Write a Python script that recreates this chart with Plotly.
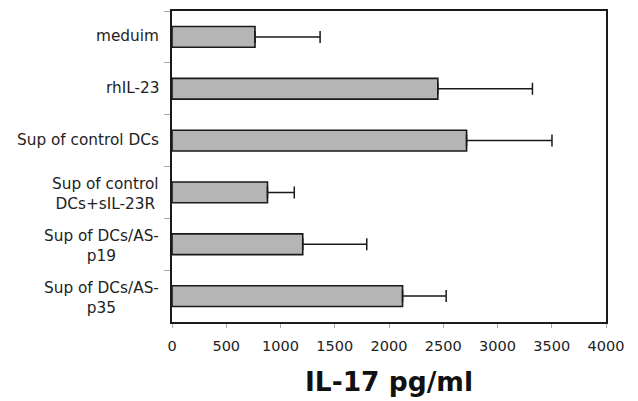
import plotly.graph_objects as go

categories = ["meduim", "rhIL-23", "Sup of control DCs",
              "Sup of control<br>DCs+sIL-23R", "Sup of DCs/AS-<br>p19", "Sup of DCs/AS-<br>p35"]
values = [765, 2450, 2715, 880, 1205, 2125]
errors = [600, 872, 787, 247, 590, 402]
x_ticks = [0, 500, 1000, 1500, 2000, 2500, 3000, 3500, 4000]

FONT = "DejaVu Sans, Verdana, sans-serif"

fig = go.Figure()
fig.add_trace(go.Bar(
    y=categories, x=values, orientation="h",
    marker=dict(color="#b5b5b5", line=dict(color="#1a1a1a", width=1.6)),
    error_x=dict(type="data", array=errors, arrayminus=[0]*len(errors),
                 symmetric=False, color="#1a1a1a", thickness=1.5, width=6),
    width=0.4,
))

for c in categories:
    multi = "<br>" in c
    fig.add_annotation(x=0, xref="paper", y=c, yref="y", text=c, showarrow=False,
                       xanchor="right", align="center", xshift=-11,
                       yshift=-2 if multi else 1,
                       font=dict(family=FONT, size=15.3, color="#222"))

fig.update_layout(
    width=638, height=401,
    margin=dict(l=172, r=32, t=9, b=73),
    paper_bgcolor="white", plot_bgcolor="white",
    showlegend=False,
    font=dict(family=FONT, color="#222"),
    xaxis=dict(range=[0, 4000], tickvals=x_ticks, ticktext=[str(v) for v in x_ticks],
               ticks="outside", ticklen=4, tickcolor="#aaa", tickwidth=1,
               ticklabelstandoff=6,
               showline=True, linecolor="#1a1a1a", linewidth=1.5, mirror=True,
               showgrid=False, zeroline=False,
               tickfont=dict(family=FONT, size=14.5, color="#222"),
               title=dict(text="<b>IL-17 pg/ml</b>", font=dict(family=FONT, size=26.5, color="#111"),
                          standoff=19)),
    yaxis=dict(categoryorder="array", categoryarray=categories, autorange="reversed",
               showticklabels=False, ticks="outside", ticklen=6, tickcolor="#aaa",
               tickson="boundaries",
               showline=True, linecolor="#1a1a1a", linewidth=1.5, mirror=True,
               showgrid=False, zeroline=False),
)

fig.write_html("out.html")
